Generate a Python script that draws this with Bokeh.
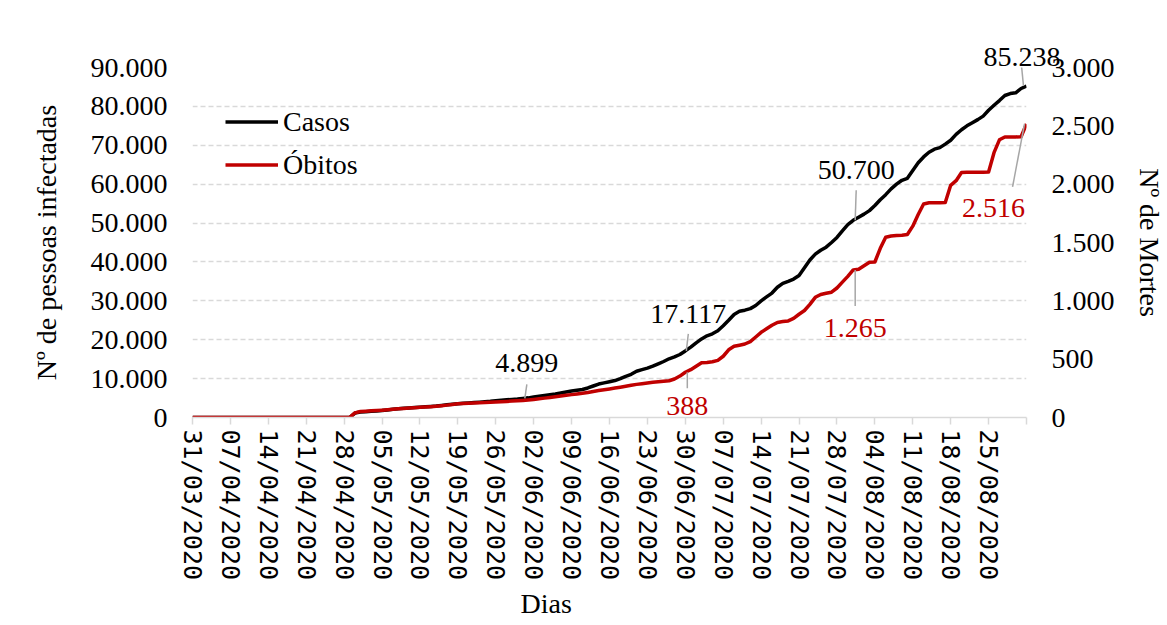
import math
from bokeh.plotting import figure
from bokeh.models import Range1d, LinearAxis, FixedTicker, Legend, LegendItem, Title, Label
from bokeh.core.properties import value
from bokeh.embed import file_html
from bokeh.resources import INLINE

SERIF = "Liberation Serif"
RED = "#c00000"
GRID = "#d9d9d9"

# ---------------- data ----------------
X_TICK_LABELS = ["31/03/2020", "07/04/2020", "14/04/2020", "21/04/2020", "28/04/2020",
                 "05/05/2020", "12/05/2020", "19/05/2020", "26/05/2020", "02/06/2020",
                 "09/06/2020", "16/06/2020", "23/06/2020", "30/06/2020", "07/07/2020",
                 "14/07/2020", "21/07/2020", "28/07/2020", "04/08/2020", "11/08/2020",
                 "18/08/2020", "25/08/2020"]
Y_LEFT_TICKS = [0, 10000, 20000, 30000, 40000, 50000, 60000, 70000, 80000, 90000]
Y_RIGHT_TICKS = [0, 500, 1000, 1500, 2000, 2500, 3000]

# daily cumulative values, 31/03/2020 .. 01/09/2020
CASOS = [0] * 30 + [
    1150, 1400, 1500, 1600, 1700, 1800, 1950, 2100, 2230, 2350,
    2450, 2550, 2650, 2750, 2850, 2950, 3100, 3250, 3380, 3520,
    3650, 3750, 3850, 3950, 4050, 4150, 4300, 4450, 4550, 4650,
    4750, 4899, 5050, 5250, 5450, 5650, 5850, 6050, 6300, 6550,
    6800, 7000, 7200, 7600, 8100, 8600, 8900, 9200, 9500, 10000,
    10600, 11100, 11900, 12300, 12700, 13200, 13800, 14400, 15100, 15600,
    16200, 17117, 18100, 19200, 20200, 21000, 21520, 22300, 23600, 25000,
    26500, 27300, 27600, 28000, 28800, 30000, 31000, 32000, 33500, 34500,
    35000, 35600, 36500, 38500, 40500, 42000, 43000, 43800, 45000, 46300,
    48000, 49600, 50700, 51500, 52300, 53200, 54500, 56000, 57300, 58800,
    60000, 61000, 61500, 63500, 65500, 67000, 68200, 69000, 69400, 70300,
    71300, 72800, 74000, 75000, 75800, 76600, 77500, 79000, 80300, 81500,
    82800, 83300, 83500, 84600, 85238]

OBITOS = [0] * 30 + [
    40, 51, 54, 57, 60, 63, 66, 70, 75, 78,
    81, 84, 87, 90, 93, 97, 101, 106, 112, 117,
    120, 122, 125, 127, 129, 131, 133, 135, 138, 141,
    143, 146, 150, 155, 160, 166, 172, 178, 184, 190,
    196, 202, 208, 215, 223, 231, 238, 245, 252, 260,
    268, 276, 284, 290, 296, 302, 306, 310, 315, 330,
    355, 388, 410, 440, 470, 472, 478, 490, 525, 580,
    610, 620, 630, 650, 690, 730, 760, 790, 815, 822,
    828, 850, 885, 917, 970, 1030, 1055, 1065, 1074, 1110,
    1160, 1210, 1265, 1270, 1300, 1331, 1333, 1450, 1545, 1555,
    1560, 1562, 1568, 1640, 1740, 1830, 1840, 1840, 1840, 1842,
    1990, 2030, 2100, 2103, 2103, 2103, 2103, 2105, 2270, 2380,
    2405, 2405, 2405, 2406, 2516]

# annotated days (indices into the daily arrays); the last case value is shown above the frame
ANNOT_CASOS_DAYS = [61, 91, 122]
LAST_DAY = 154
ANNOT_OBITOS_DAYS = [91, 122, 154]

# ---------------- styles ----------------
# pixel offsets (screen, +down): text (dx, dy), leader (dx0, dy0, dx1, dy1)
CASOS_TEXT_OFF = [(4, -35), (3, -37), (3, -50)]
CASOS_LEAD_OFF = [(2, 0, 4, -14), (1, 0, 3, -17), (2, 0, 3, -30)]
LAST_LEAD_OFF = (-3, 0, -5, -20)
OBITOS_TEXT_OFF = [(2, 34), (2, 58), (-33, 84)]
OBITOS_LEAD_OFF = [(2, 0, 2, 16), (2, 0, 2, 36), (-2, 0, -14, 63)]

X_MAX = 154
FRAME_W, FRAME_H = 837, 350
FS = "28px"


def fmt(v):
    return f"{v:,}".replace(",", ".")


days = list(range(len(CASOS)))
X_TICKS = list(range(0, X_MAX + 1, 7))

p = figure(width=1167, height=625, x_range=Range1d(0, X_MAX), y_range=Range1d(0, 90000),
           output_backend="svg", toolbar_location=None,
           min_border_left=192, min_border_right=138, min_border_top=67, min_border_bottom=208,
           background_fill_color="white", border_fill_color="white")
p.outline_line_color = None
p.extra_y_ranges = {"obitos": Range1d(0, 3000)}

# x axis
xa = p.xaxis[0]
xa.ticker = FixedTicker(ticks=X_TICKS)
xa.major_label_overrides = {t: lab for t, lab in zip(X_TICKS, X_TICK_LABELS + [""])}
xa.major_label_orientation = "vertical"
xa.axis_line_color = GRID
xa.axis_line_width = 1.5
xa.major_tick_line_color = GRID
xa.major_tick_line_width = 1.5
xa.major_tick_out = 7
xa.major_tick_in = 0
xa.minor_tick_line_color = None
xa.major_label_text_font = "DejaVu Sans Mono"
xa.major_label_text_font_size = "25px"
xa.major_label_text_color = "black"
xa.major_label_standoff = 5

# left y axis
ya = p.yaxis[0]
ya.ticker = FixedTicker(ticks=Y_LEFT_TICKS)
ya.major_label_overrides = {t: fmt(t) for t in Y_LEFT_TICKS}
ya.axis_line_color = None
ya.major_tick_line_color = None
ya.minor_tick_line_color = None
ya.major_tick_out = 0
ya.major_tick_in = 0
ya.major_label_standoff = 25
ya.major_label_text_font = SERIF
ya.major_label_text_font_size = FS
ya.major_label_text_color = "black"
ya.axis_label = "Nº de pessoas infectadas"
ya.axis_label_text_font = SERIF
ya.axis_label_text_font_size = FS
ya.axis_label_text_font_style = "normal"
ya.axis_label_text_color = "black"
ya.axis_label_standoff = 26

# right y axis
ra = LinearAxis(y_range_name="obitos", ticker=FixedTicker(ticks=Y_RIGHT_TICKS))
ra.major_label_overrides = {t: fmt(t) for t in Y_RIGHT_TICKS}
ra.axis_line_color = None
ra.major_tick_line_color = None
ra.minor_tick_line_color = None
ra.major_tick_out = 0
ra.major_tick_in = 0
ra.major_label_standoff = 25
ra.major_label_text_font = SERIF
ra.major_label_text_font_size = FS
ra.major_label_text_color = "black"
ra.axis_label = "Nº de Mortes"
ra.axis_label_text_font = SERIF
ra.axis_label_text_font_size = FS
ra.axis_label_text_font_style = "normal"
ra.axis_label_text_color = "black"
ra.axis_label_standoff = 16
if "axis_label_orientation" in LinearAxis.properties():
    ra.axis_label_orientation = "vertical"
p.add_layout(ra, "right")

px_day = FRAME_W / X_MAX
cases_px = 90000 / FRAME_H
deaths_px = 3000 / FRAME_H

# grid
p.xgrid.visible = False
p.ygrid.ticker = FixedTicker(ticks=Y_LEFT_TICKS)
p.ygrid.grid_line_color = GRID
p.ygrid.grid_line_width = 1.5
p.ygrid.grid_line_dash = "5 3"

# lines
r1 = p.line(days, CASOS, line_color="black", line_width=3.5, line_join="round")
r2 = p.line(days, OBITOS, line_color=RED, line_width=3.5, line_join="round", y_range_name="obitos")

# annotations
for days_l, series, toff, loff, unit, color, rng in [
        (ANNOT_CASOS_DAYS + [LAST_DAY], CASOS, CASOS_TEXT_OFF, CASOS_LEAD_OFF + [LAST_LEAD_OFF],
         cases_px, "black", "default"),
        (ANNOT_OBITOS_DAYS, OBITOS, OBITOS_TEXT_OFF, OBITOS_LEAD_OFF, deaths_px, RED, "obitos")]:
    xs = list(days_l)
    ys = [series[d] for d in days_l]
    x0 = [x + o[0] / px_day for x, o in zip(xs, loff)]
    y0 = [y - o[1] * unit for y, o in zip(ys, loff)]
    x1 = [x + o[2] / px_day for x, o in zip(xs, loff)]
    y1 = [y - o[3] * unit for y, o in zip(ys, loff)]
    kw = {} if rng == "default" else {"y_range_name": rng}
    p.segment(x0=x0, y0=y0, x1=x1, y1=y1, line_color="#a6a6a6", line_width=1.5, **kw)
    for x, y, o in zip(xs, ys, toff):
        p.add_layout(Label(x=x, y=y, text=fmt(y), x_offset=o[0], y_offset=-o[1],
                           text_align="center", text_baseline="alphabetic", level="overlay",
                           text_font=SERIF, text_font_size=FS, text_color=color, **kw))

# last case value sits above the plotting frame
p.add_layout(Title(text=fmt(CASOS[LAST_DAY]), align="right", offset=-34, vertical_align="bottom",
                   text_font=SERIF, text_font_size=FS, text_font_style="normal",
                   text_color="black", standoff=3), "above")

# legend
leg = Legend(items=[LegendItem(label=value("Casos"), renderers=[r1]),
                    LegendItem(label=value("Óbitos"), renderers=[r2])],
             location="top_left", margin=33, padding=5, spacing=0,
             glyph_width=53, glyph_height=43, label_height=43, label_standoff=5,
             border_line_color=None, background_fill_alpha=0,
             label_text_font=SERIF, label_text_font_size=FS, label_text_color="black")
p.add_layout(leg)

# x axis title
p.add_layout(Title(text="Dias", align="left", offset=328, text_font=SERIF,
                   text_font_size=FS, text_font_style="normal", text_color="black",
                   standoff=4), "below")

open("out.html", "w").write(file_html(p, INLINE))
